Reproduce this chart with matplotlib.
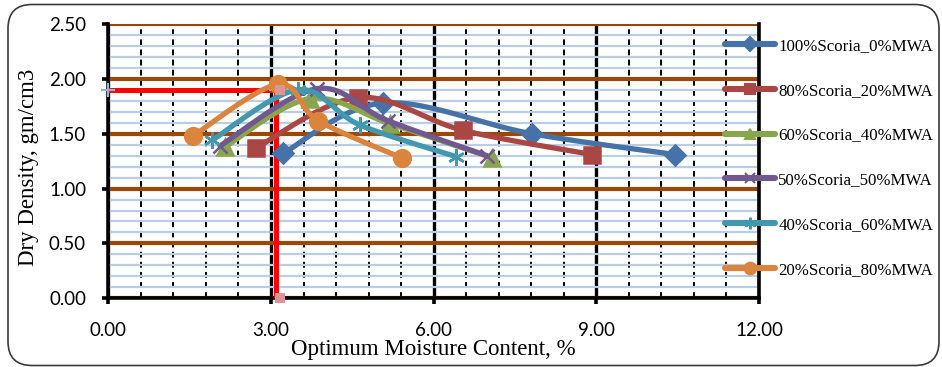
import numpy as np
import matplotlib
matplotlib.use("Agg")
import matplotlib.pyplot as plt
from matplotlib.ticker import MultipleLocator
from matplotlib.patches import FancyBboxPatch
from matplotlib.lines import Line2D

# Compaction results: optimum moisture content (%) vs dry density (gm/cm3)
labels = ["100%Scoria_0%MWA", "80%Scoria_20%MWA", "60%Scoria_40%MWA",
          "50%Scoria_50%MWA", "40%Scoria_60%MWA", "20%Scoria_80%MWA"]
moisture = [
    [3.22, 5.07, 7.81, 10.45],
    [2.72, 4.61, 6.55, 8.92],
    [2.15, 3.72, 5.20, 7.08],
    [2.06, 3.84, 5.15, 6.98],
    [1.91, 3.50, 4.64, 6.42],
    [1.56, 3.13, 3.87, 5.41],
]
density = [
    [1.32, 1.78, 1.50, 1.31],
    [1.37, 1.83, 1.53, 1.31],
    [1.38, 1.82, 1.59, 1.28],
    [1.39, 1.91, 1.62, 1.30],
    [1.44, 1.90, 1.58, 1.29],
    [1.48, 1.95, 1.62, 1.28],
]
# Reference lines for the selected optimum
ref_omc = 3.09
ref_mdd = 1.90

colors = ["#4572A7", "#AA4643", "#89A54E", "#71588F", "#4198AF", "#DB843D"]
markers = ["D", "s", "^", "x", (6, 2, 0), "o"]
msizes = [10, 11, 11, 10, 12, 12]


def smooth(xs, ys, n=30):
    """Catmull-Rom style Bezier smoothing through the points."""
    p = np.column_stack([xs, ys]).astype(float)
    ext = np.vstack([p[0], p, p[-1]])
    out = []
    t = np.linspace(0, 1, n)[:, None]
    for i in range(len(p) - 1):
        p0, p1, p2, p3 = ext[i], ext[i + 1], ext[i + 2], ext[i + 3]
        c1 = p1 + (p2 - p0) / 6.0
        c2 = p2 - (p3 - p1) / 6.0
        seg = ((1 - t) ** 3) * p1 + 3 * ((1 - t) ** 2) * t * c1 \
            + 3 * (1 - t) * t ** 2 * c2 + t ** 3 * p2
        out.append(seg if i == 0 else seg[1:])
    out = np.vstack(out)
    return out[:, 0], out[:, 1]


W, H, DPI = 942, 367, 100
fig = plt.figure(figsize=(W / DPI, H / DPI), dpi=DPI)

# rounded chart border
border = FancyBboxPatch((8 / DPI, 1.5 / DPI), (931 / DPI), (361 / DPI),
                        boxstyle="round,pad=0,rounding_size=0.24",
                        transform=fig.dpi_scale_trans, fill=False,
                        edgecolor="#3a3a3a", linewidth=1.2)
fig.patches.append(border)

ax_l, ax_r, ax_t, ax_b = 108.3, 759.0, 24.0, 298.3
ax = fig.add_axes([ax_l / W, 1 - ax_b / H, (ax_r - ax_l) / W, (ax_b - ax_t) / H])
ax.set_xlim(0, 12)
ax.set_ylim(0, 2.5)
ax.patch.set_alpha(0)

ax.xaxis.set_major_locator(MultipleLocator(3))
ax.xaxis.set_minor_locator(MultipleLocator(0.6))
ax.yaxis.set_major_locator(MultipleLocator(0.5))
ax.yaxis.set_minor_locator(MultipleLocator(0.1))

ax.grid(which="minor", axis="y", color="#B9CDE5", linewidth=1.6)
ax.grid(which="minor", axis="x", color="black", linewidth=1.4,
        linestyle=(0, (3, 2.2)))
ax.grid(which="major", axis="y", color="#984807", linewidth=3.0)
ax.grid(which="major", axis="x", color="black", linewidth=2.4)
ax.set_axisbelow(True)

for s in ("left", "bottom", "right"):
    ax.spines[s].set_linewidth(2.6)
    ax.spines[s].set_color("black")
ax.spines["top"].set_visible(False)

tick_font = dict(family="Lato", size=13.5)
ax.tick_params(which="major", direction="out", length=4, width=2.6,
               color="black")
ax.tick_params(which="minor", length=0)
ax.tick_params(axis="x", pad=13)
ax.tick_params(axis="y", pad=12)
ax.set_xticks(np.arange(0, 12.01, 3))
ax.set_yticks(np.arange(0, 2.51, 0.5))
ax.set_xticklabels([f"{v:.2f}" for v in np.arange(0, 12.01, 3)], **tick_font)
ax.set_yticklabels([f"{v:.2f}" for v in np.arange(0, 2.51, 0.5)], **tick_font)

# red reference lines to the optimum point
ax.plot([0, ref_omc], [ref_mdd, ref_mdd], color="#FF0000", linewidth=3.6,
        solid_capstyle="butt", zorder=3)
ax.plot([ref_omc, ref_omc], [ref_mdd, 0], color="#FF0000", linewidth=3.6,
        solid_capstyle="butt", zorder=3)
ax.plot([0, ref_omc], [ref_mdd, ref_mdd], linestyle="none", marker="+",
        markersize=10, markeredgewidth=1.6, color="#95B3D7", zorder=4,
        clip_on=False)
ax.plot([ref_omc + 0.08, ref_omc + 0.08], [ref_mdd, 0], linestyle="none",
        marker="s", markersize=7, color="#D99694", markeredgewidth=0,
        zorder=6, clip_on=False)

for xs, ys, lab, c, m, ms in zip(moisture, density, labels, colors, markers, msizes):
    sx, sy = smooth(xs, ys)
    ax.plot(sx, sy, color=c, linewidth=3.8, solid_capstyle="round", zorder=5)
    ax.plot(xs, ys, linestyle="none", marker=m, markersize=ms, color=c,
            markeredgecolor=c, markeredgewidth=1.8, zorder=5)

handles = [Line2D([], [], color=c, linewidth=4.4, marker=m, markersize=ms * 0.7,
                  markeredgewidth=1.5, solid_capstyle="round")
           for c, m, ms in zip(colors, markers, msizes)]
leg = fig.legend(handles, labels, loc="upper left",
                 bbox_to_anchor=(725 / W, 1 - 38 / H), frameon=False,
                 prop=dict(family="Liberation Serif", size=12.2),
                 handlelength=2.95, handletextpad=0.2, labelspacing=1.70,
                 borderpad=0, borderaxespad=0)

ax.set_xlabel("Optimum Moisture Content, %", family="Liberation Serif",
              size=16.5)
ax.xaxis.set_label_coords(0.5, -0.15)
ax.set_ylabel("Dry Density, gm/cm3", family="Liberation Serif", size=16.5)
ax.yaxis.set_label_coords(-0.107, 0.477)

fig.savefig("out.png", dpi=DPI)
